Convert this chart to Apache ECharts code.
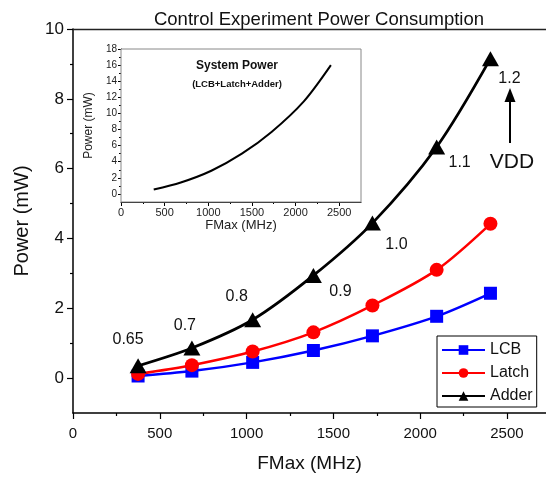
<!DOCTYPE html>
<html>
<head>
<meta charset="utf-8">
<script src="https://cdn.jsdelivr.net/npm/echarts@6/dist/echarts.min.js"></script>
<style>html,body{margin:0;padding:0;background:#fff}#c{width:546px;height:480px}</style>
</head>
<body>
<div id="c"></div>
<script>
// ---- data ----
const fmax = [375, 685, 1035, 1385, 1725, 2095, 2405];
const lcb = [0.06, 0.20, 0.45, 0.79, 1.21, 1.77, 2.43];
const latch = [0.12, 0.37, 0.76, 1.31, 2.08, 3.10, 4.42];
const adder = [0.35, 0.86, 1.67, 2.94, 4.44, 6.62, 9.15];
const vdd = ['0.65', '0.7', '0.8', '0.9', '1.0', '1.1', '1.2'];
const systemPower = [0.55, 1.42, 2.88, 5.0, 7.7, 11.5, 16.0];
const mainXTicks = [0, 500, 1000, 1500, 2000, 2500];
const mainXMinor = [250, 750, 1250, 1750, 2250];
const mainYTicks = [0, 2, 4, 6, 8, 10];
const mainYMinor = [1, 3, 5, 7, 9];
const insetYTicks = [0, 2, 4, 6, 8, 10, 12, 14, 16, 18];
const insetYMinor = [1, 3, 5, 7, 9, 11, 13, 15, 17];

const FONT = 'Liberation Sans, Arial, sans-serif';
const vddOffsets = [[-10, -26], [-7, -22], [-16, -23], [27, 16], [24, 21], [23, 16], [19, 20]];

const pairs = (ys) => fmax.map((x, i) => [x, ys[i]]);
const plain = (v) => String(v);

const chart = echarts.init(document.getElementById('c'), null, {renderer: 'canvas'});

function axisBase(type, grid, min, max) {
  return {
    type: 'value', gridIndex: grid, min: min, max: max, interval: type === 'x' ? 250 : 1,
    position: type === 'x' ? 'bottom' : 'left',
    axisLine: {show: true, onZero: false, lineStyle: {color: '#000', width: 1.5}},
    axisTick: {show: false},
    axisLabel: {show: false},
    splitLine: {show: false}
  };
}

const option = {
  animation: false,
  backgroundColor: '#fff',
  title: {
    text: 'Control Experiment Power Consumption',
    left: 314, top: 5, textAlign: 'center',
    textStyle: {fontFamily: FONT, fontSize: 18.5, fontWeight: 'normal', color: '#111'}
  },
  legend: {
    orient: 'vertical', left: 437, top: 336,
    data: ['LCB', 'Latch', 'Adder'],
    itemWidth: 43, itemHeight: 12, itemGap: 7,
    padding: [6, 4, 3, 4],
    borderColor: '#000', borderWidth: 1, borderRadius: 0,
    backgroundColor: '#fff',
    textStyle: {fontFamily: FONT, fontSize: 16, color: '#111'}
  },
  grid: [
    {left: 73, top: 29, width: 473, height: 384, show: false},
    {left: 121, top: 49, width: 240, height: 153, show: true, borderColor: '#888', borderWidth: 1, backgroundColor: '#fff', z: 5}
  ],
  xAxis: [
    Object.assign(axisBase('x', 0, 0, 2725), {
      axisTick: {show: true, length: 6, customValues: mainXTicks, lineStyle: {color: '#000', width: 1.2}},
      axisLabel: {show: true, customValues: mainXTicks, formatter: plain, fontFamily: FONT, fontSize: 15, color: '#111', margin: 13},
      name: 'FMax (MHz)', nameLocation: 'middle', nameGap: 41,
      nameTextStyle: {fontFamily: FONT, fontSize: 19, color: '#111'}
    }),
    Object.assign(axisBase('x', 0, 0, 2725), {
      axisLine: {show: false, onZero: false},
      axisTick: {show: true, length: 3, customValues: mainXMinor, lineStyle: {color: '#000', width: 1.2}}
    }),
    Object.assign(axisBase('x', 0, 0, 2725), {
      position: 'top',
      axisLine: {show: true, onZero: false, lineStyle: {color: '#222', width: 1.3}}
    }),
    Object.assign(axisBase('x', 1, 0, 2750), {
      axisLine: {show: true, onZero: false, lineStyle: {color: '#000', width: 1}},
      axisTick: {show: true, length: 4, customValues: mainXTicks, lineStyle: {color: '#000', width: 1}},
      axisLabel: {show: true, customValues: mainXTicks, formatter: plain, fontFamily: FONT, fontSize: 11, color: '#222', margin: 5},
      name: 'FMax (MHz)', nameLocation: 'middle', nameGap: 17,
      nameTextStyle: {fontFamily: FONT, fontSize: 13, color: '#222'}
    }),
    Object.assign(axisBase('x', 1, 0, 2750), {
      axisLine: {show: false, onZero: false},
      axisTick: {show: true, length: 2, customValues: mainXMinor, lineStyle: {color: '#000', width: 1}}
    })
  ],
  yAxis: [
    Object.assign(axisBase('y', 0, -1, 10), {
      axisTick: {show: true, length: 6, customValues: mainYTicks, lineStyle: {color: '#000', width: 1.2}},
      axisLabel: {show: true, customValues: mainYTicks, formatter: plain, fontFamily: FONT, fontSize: 17, color: '#111', margin: 9},
      name: 'Power (mW)', nameLocation: 'middle', nameGap: 41,
      nameTextStyle: {fontFamily: FONT, fontSize: 20, color: '#111'}
    }),
    Object.assign(axisBase('y', 0, -1, 10), {
      axisLine: {show: false, onZero: false},
      axisTick: {show: true, length: 3, customValues: mainYMinor, lineStyle: {color: '#000', width: 1.2}}
    }),
    Object.assign(axisBase('y', 1, -1, 18), {
      axisLine: {show: true, onZero: false, lineStyle: {color: '#000', width: 1}},
      axisTick: {show: true, length: 3, customValues: insetYTicks, lineStyle: {color: '#000', width: 1}},
      axisLabel: {show: true, customValues: insetYTicks, formatter: plain, fontFamily: FONT, fontSize: 10, color: '#222', margin: 4},
      name: 'Power (mW)', nameLocation: 'middle', nameGap: 26,
      nameTextStyle: {fontFamily: FONT, fontSize: 12, color: '#222'}
    }),
    Object.assign(axisBase('y', 1, -1, 18), {
      axisLine: {show: false, onZero: false},
      axisTick: {show: true, length: 2, customValues: insetYMinor, lineStyle: {color: '#000', width: 1}}
    })
  ],
  series: [
    {
      name: 'LCB', type: 'line', xAxisIndex: 0, yAxisIndex: 0,
      data: pairs(lcb), smooth: 0.3,
      symbol: 'rect', symbolSize: 13,
      lineStyle: {color: '#0000ff', width: 2.5},
      itemStyle: {color: '#0000ff'}
    },
    {
      name: 'Latch', type: 'line', xAxisIndex: 0, yAxisIndex: 0,
      data: pairs(latch), smooth: 0.3,
      symbol: 'circle', symbolSize: 14,
      lineStyle: {color: '#ff0000', width: 2.5},
      itemStyle: {color: '#ff0000'}
    },
    {
      name: 'Adder', type: 'line', xAxisIndex: 0, yAxisIndex: 0,
      data: fmax.map((x, i) => ({value: [x, adder[i]], label: {offset: vddOffsets[i]}})),
      smooth: 0.3,
      symbol: 'triangle', symbolSize: [17, 15],
      lineStyle: {color: '#000', width: 2.8},
      itemStyle: {color: '#000'},
      label: {
        show: true, position: 'inside',
        formatter: (p) => vdd[p.dataIndex],
        fontFamily: FONT, fontSize: 16, color: '#111'
      }
    },
    {
      name: 'System', type: 'line', xAxisIndex: 3, yAxisIndex: 2,
      data: pairs(systemPower), smooth: 0.3,
      showSymbol: false, symbol: 'none',
      lineStyle: {color: '#000', width: 2}, z: 6
    }
  ],
  graphic: [
    {type: 'text', z: 10, style: {x: 237, y: 66, text: 'System Power', fontFamily: FONT, fontSize: 12, fontWeight: 'bold', fill: '#111', align: 'center', verticalAlign: 'middle'}},
    {type: 'text', z: 10, style: {x: 237, y: 84, text: '(LCB+Latch+Adder)', fontFamily: FONT, fontSize: 9.5, fontWeight: 'bold', fill: '#111', align: 'center', verticalAlign: 'middle'}},
    {type: 'text', z: 10, style: {x: 512, y: 162, text: 'VDD', fontFamily: FONT, fontSize: 21, fill: '#111', align: 'center', verticalAlign: 'middle'}},
    {type: 'line', z: 10, shape: {x1: 510, y1: 143, x2: 510, y2: 100}, style: {stroke: '#000', lineWidth: 2}},
    {type: 'polygon', z: 10, shape: {points: [[504.5, 102], [515.5, 102], [510, 88]]}, style: {fill: '#000'}}
  ]
};
chart.setOption(option);
</script>
</body>
</html>
